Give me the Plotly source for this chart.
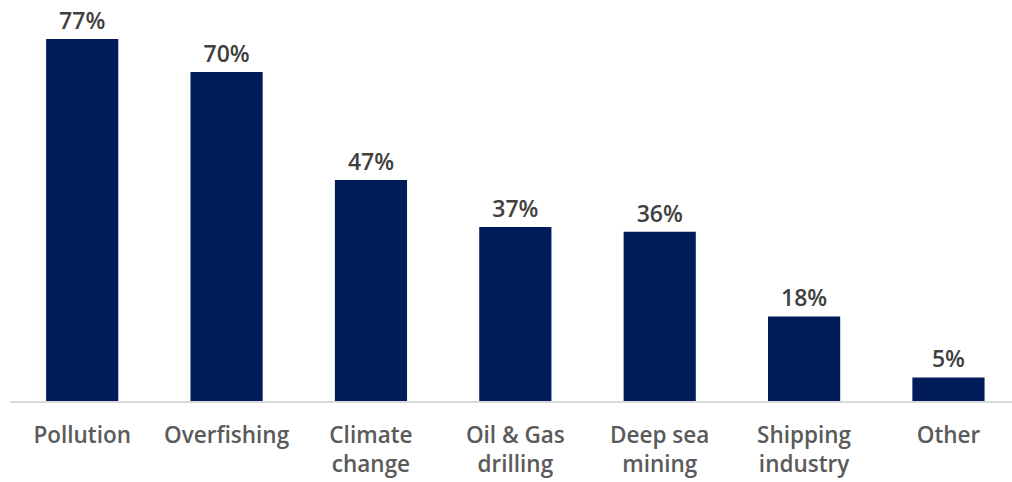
import plotly.graph_objects as go

categories = ["Pollution", "Overfishing", "Climate<br>change", "Oil & Gas<br>drilling",
              "Deep sea<br>mining", "Shipping<br>industry", "Other"]
values = [77, 70, 47, 37, 36, 18, 5]
value_labels = [f"{v}%" for v in values]

fig = go.Figure(go.Bar(
    x=categories, y=values,
    text=value_labels, textposition="outside",
    textfont=dict(family="Open Sans", size=23, color="#404040", weight=600),
    marker=dict(color="#001c5a", line=dict(width=0)),
    width=0.5, cliponaxis=False,
))

fig.update_layout(
    width=1012, height=482,
    margin=dict(l=10, r=0, t=0, b=81),
    plot_bgcolor="white", paper_bgcolor="white",
    showlegend=False,
    font=dict(family="Open Sans"),
)
fig.update_xaxes(
    range=[-0.5, 6.44], showline=True, linecolor="#d9d9d9", linewidth=1.5,
    ticks="outside", ticklen=13, tickcolor="rgba(0,0,0,0)",
    tickfont=dict(family="Open Sans", size=22.5, color="#5a5a5a", weight=600),
    showgrid=False,
)
fig.update_yaxes(range=[0, 85.3], visible=False, showgrid=False)

fig.write_html("out.html")
